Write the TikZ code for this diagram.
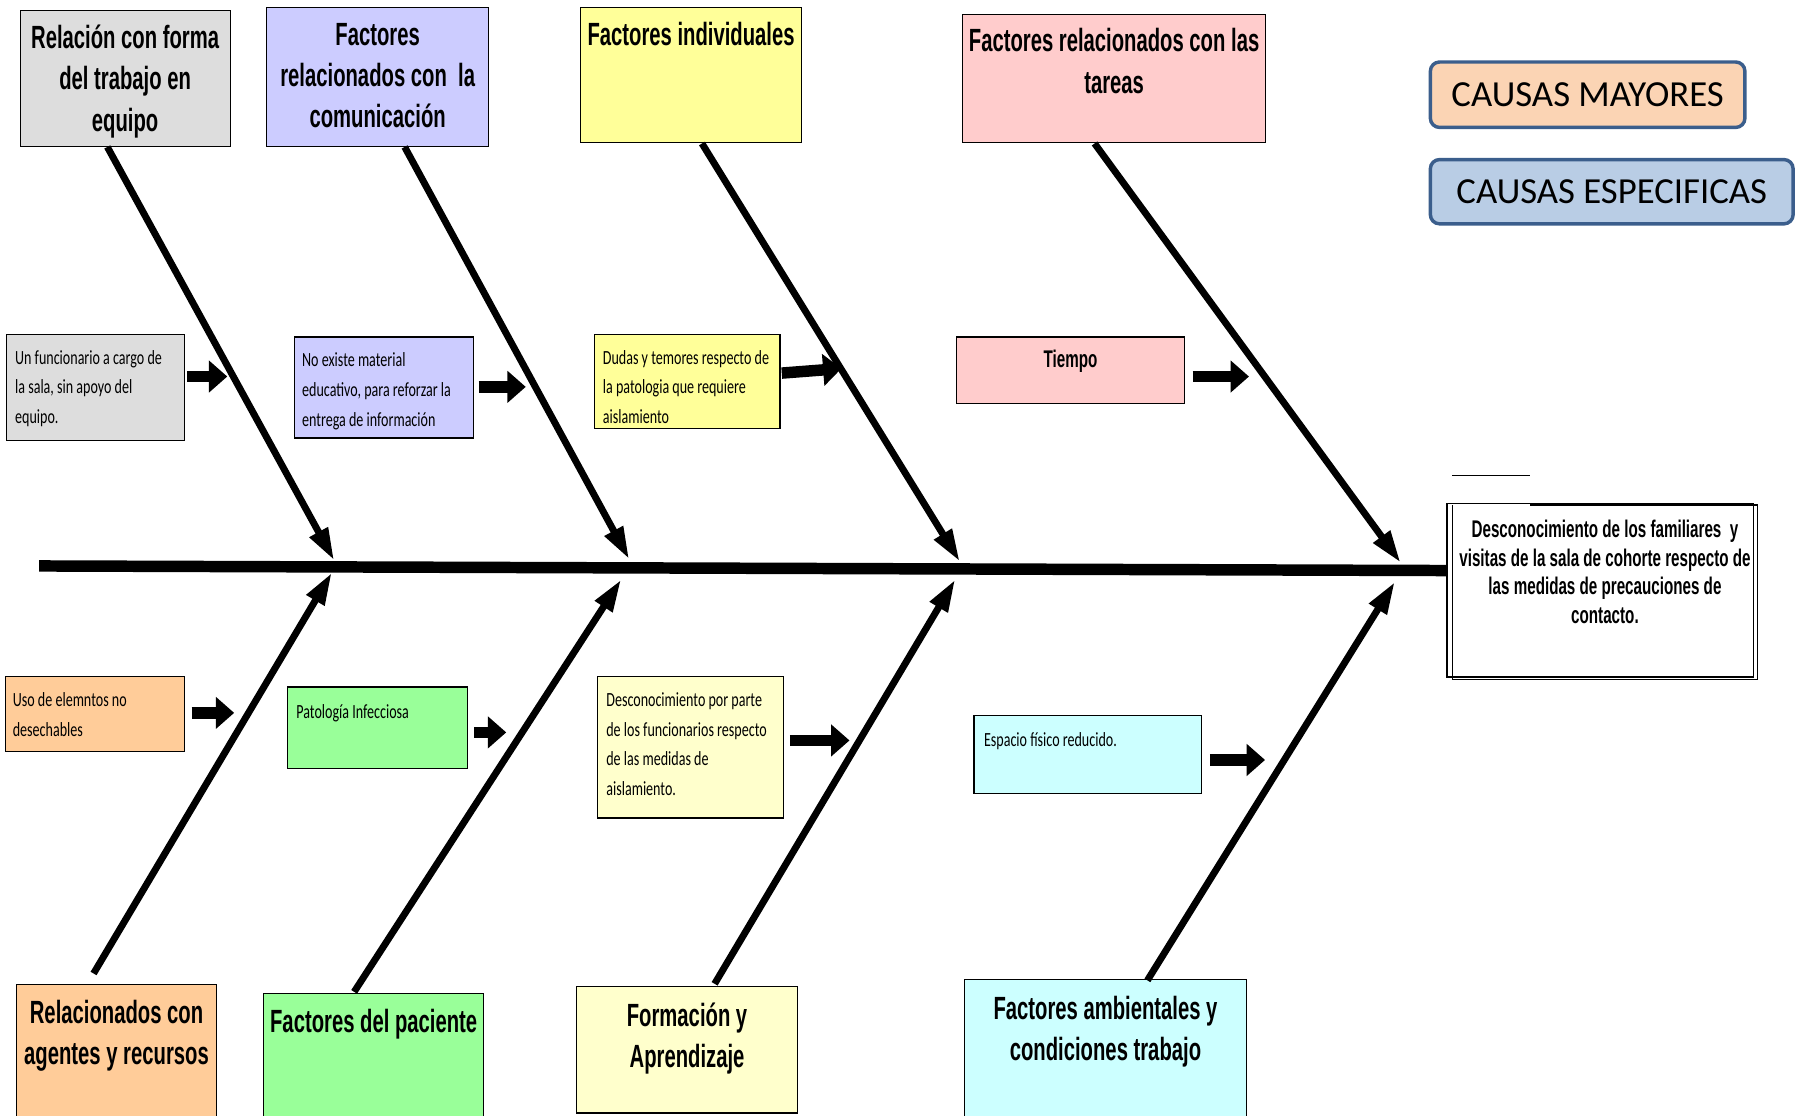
\documentclass[tikz,border=0pt]{standalone}
\usepackage{fontspec}
\usepackage{tikz}
\usetikzlibrary{arrows.meta, calc}

\newfontfamily\titfont[FakeStretch=0.63]{Liberation Sans}
\newfontfamily\subfont[FakeStretch=0.70]{Carlito}
\newfontfamily\legfont{Carlito}

\definecolor{grisc}{HTML}{DDDDDD}
\definecolor{lila}{HTML}{CCCCFF}
\definecolor{amarillo}{HTML}{FFFF99}
\definecolor{rosa}{HTML}{FFCCCC}
\definecolor{naranja}{HTML}{FFCC99}
\definecolor{verde}{HTML}{99FF99}
\definecolor{crema}{HTML}{FFFFCC}
\definecolor{celeste}{HTML}{CCFFFF}
\definecolor{salmon}{HTML}{FBD4B4}
\definecolor{azulc}{HTML}{B9CDE5}
\definecolor{borde}{HTML}{3B5E8C}

\tikzset{
  caja/.style={draw, line width=1pt, anchor=north west, inner sep=0pt},
  titulo/.style={anchor=north, inner sep=0pt, yshift=-13pt, text width=300pt, align=flush center, text height=20pt,
    font=\titfont\bfseries\fontsize{28}{36}\selectfont},
  detalle/.style={anchor=north west, inner sep=0pt, xshift=8pt, yshift=-15pt, text width=200pt, align=flush left,
    text height=11pt, font=\subfont\fontsize{17.5}{26}\selectfont},
  tiempotxt/.style={anchor=north, inner sep=0pt, yshift=-11.5pt, text height=15pt,
    font=\titfont\bfseries\fontsize{21}{25}\selectfont},
  efectotxt/.style={anchor=north, inner sep=0pt, xshift=4pt, yshift=-16pt, text width=300pt, align=flush center,
    text height=14pt, font=\titfont\bfseries\fontsize{21}{25}\selectfont},
  leyenda/.style={draw=borde, line width=3pt, rounded corners=8pt, inner sep=0pt,
    font=\legfont\fontsize{32}{36}\selectfont},
  espina/.style={line width=10pt},
  hueso/.style={line width=6pt, -{Triangle[length=28pt,width=17pt]}},
  flecha/.style={line width=10pt, -{Triangle[length=16pt,width=27pt]}},
}

\begin{document}
\begin{tikzpicture}[x=1pt, y=-1pt]
  \clip (0,0) rectangle (1568,972);

  % causas mayores (arriba)
  \node[caja, fill=grisc, minimum width=183pt, minimum height=118pt,
    label={[titulo]north:{Relación con forma\\del trabajo en\\equipo}}] (rel) at (17,9) {};
  \node[caja, fill=lila, minimum width=193pt, minimum height=121pt,
    label={[titulo]north:{Factores\\relacionados con~ la\\comunicación}}] (com) at (232,6) {};
  \node[caja, fill=amarillo, minimum width=193pt, minimum height=118pt,
    label={[titulo]north:{Factores individuales}}] (ind) at (505,6) {};
  \node[caja, fill=rosa, minimum width=264pt, minimum height=112pt,
    label={[titulo]north:{Factores relacionados con las\\tareas}}] (tar) at (838,12) {};

  % causas mayores (abajo)
  \node[caja, fill=naranja, minimum width=174pt, minimum height=130pt,
    label={[titulo, yshift=-1pt]north:{Relacionados con\\agentes y recursos}}] (agt) at (14,857) {};
  \node[caja, fill=verde, minimum width=192pt, minimum height=125pt,
    label={[titulo, yshift=-1pt]north:{Factores del paciente}}] (pac) at (229,865) {};
  \node[caja, fill=crema, minimum width=192pt, minimum height=110pt,
    label={[titulo, yshift=-2pt]north:{Formación y\\Aprendizaje}}] (apr) at (502,859) {};
  \node[caja, fill=celeste, minimum width=245pt, minimum height=135pt,
    label={[titulo, yshift=-2pt]north:{Factores ambientales y\\condiciones trabajo}}] (amb) at (840,853) {};

  % causas especificas
  \node[caja, fill=grisc, minimum width=155pt, minimum height=92pt,
    label={[detalle]north west:{Un funcionario a cargo de\\la sala, sin apoyo del\\equipo.}}] (s1) at (5,291) {};
  \node[caja, fill=lila, minimum width=156pt, minimum height=88pt,
    label={[detalle, xshift=-1pt]north west:{No existe material\\educativo, para reforzar la\\entrega de información}}] (s2) at (256,293) {};
  \node[caja, fill=amarillo, minimum width=162pt, minimum height=82pt,
    label={[detalle]north west:{Dudas y temores respecto de\\la patologia que requiere\\aislamiento}}] (s3) at (517,291) {};
  \node[caja, fill=rosa, minimum width=198pt, minimum height=58pt,
    label={[tiempotxt]north:{Tiempo}}] (s4) at (833,293) {};
  \node[caja, fill=naranja, minimum width=156pt, minimum height=65pt,
    label={[detalle, xshift=-1pt]north west:{Uso de elemntos no\\desechables}}] (s5) at (4,589) {};
  \node[caja, fill=verde, minimum width=157pt, minimum height=71pt,
    label={[detalle, yshift=-2pt]north west:{Patología Infecciosa}}] (s6) at (250,598) {};
  \node[caja, fill=crema, minimum width=162pt, minimum height=123pt,
    label={[detalle]north west:{Desconocimiento por parte\\de los funcionarios respecto\\de las medidas de\\aislamiento.}}] (s7) at (520,589) {};
  \node[caja, fill=celeste, minimum width=198pt, minimum height=68pt,
    label={[detalle, xshift=1pt, yshift=-1pt]north west:{Espacio físico reducido.}}] (s8) at (848,623) {};

  % leyenda
  \node[leyenda, fill=salmon, minimum width=274pt, minimum height=57pt] (may) at (1383,82.5) {CAUSAS MAYORES};
  \node[leyenda, fill=azulc, minimum width=316pt, minimum height=56pt] (esp) at (1404,167) {CAUSAS ESPECIFICAS};

  % efecto
  \node[caja, fill=white, line width=1.2pt, minimum width=267pt, minimum height=151pt,
    label={[efectotxt]north:{Desconocimiento de los familiares~ y\\visitas de la sala de cohorte respecto de\\las medidas de precauciones de\\contacto.}}] (efecto) at (1260,438) {};
  \draw[line width=1.2pt] (1333,440) -- (1531,440) -- (1531,592) -- (1265,592) -- (1265,440);
  \draw[line width=1.2pt] (1265,414) -- (1333,414);

  % espina
  \coordinate (cola) at (34,493);
  \draw[espina] (cola) -- (efecto.west |- 0,497);

  \coordinate (t1) at (291,488);
  \coordinate (t2) at (548,487);
  \coordinate (t3) at (836,489);
  \coordinate (t4) at (1220,490);
  \coordinate (b1) at (289,499);
  \coordinate (b2) at (541,505);
  \coordinate (b3) at (832,505);
  \coordinate (b4) at (1215,507);

  \draw[hueso] ($(rel.south)+(-15.5,0)$) -- (t1);
  \draw[hueso] ($(com.south)+(23.5,0)$) -- (t2);
  \draw[hueso] ($(ind.south)+(9.5,0)$) -- (t3);
  \draw[hueso] ($(tar.south)+(-17,0)$) -- (t4);
  \draw[hueso] ($(agt.north)+(-20,-9)$) -- (b1);
  \draw[hueso] ($(pac.north)+(-17,-1)$) -- (b2);
  \draw[hueso] ($(apr.north)+(24,-2)$) -- (b3);
  \draw[hueso] ($(amb.north)+(36.5,1)$) -- (b4);

  % flechas cortas
  \foreach \i/\xa/\ya/\xb/\yb in {1/163/328/198/328, 2/417/337/458/337, 3/681/325/733/321,
      4/1039/328/1088/328, 5/167/621/204/621, 6/413/638/441/638, 7/688/645/740/645, 8/1054/662/1102/662}{
    \coordinate (fa\i) at (\xa,\ya);
    \coordinate (fb\i) at (\xb,\yb);
    \draw[flecha] (fa\i) -- (fb\i);
  }
\end{tikzpicture}
\end{document}
